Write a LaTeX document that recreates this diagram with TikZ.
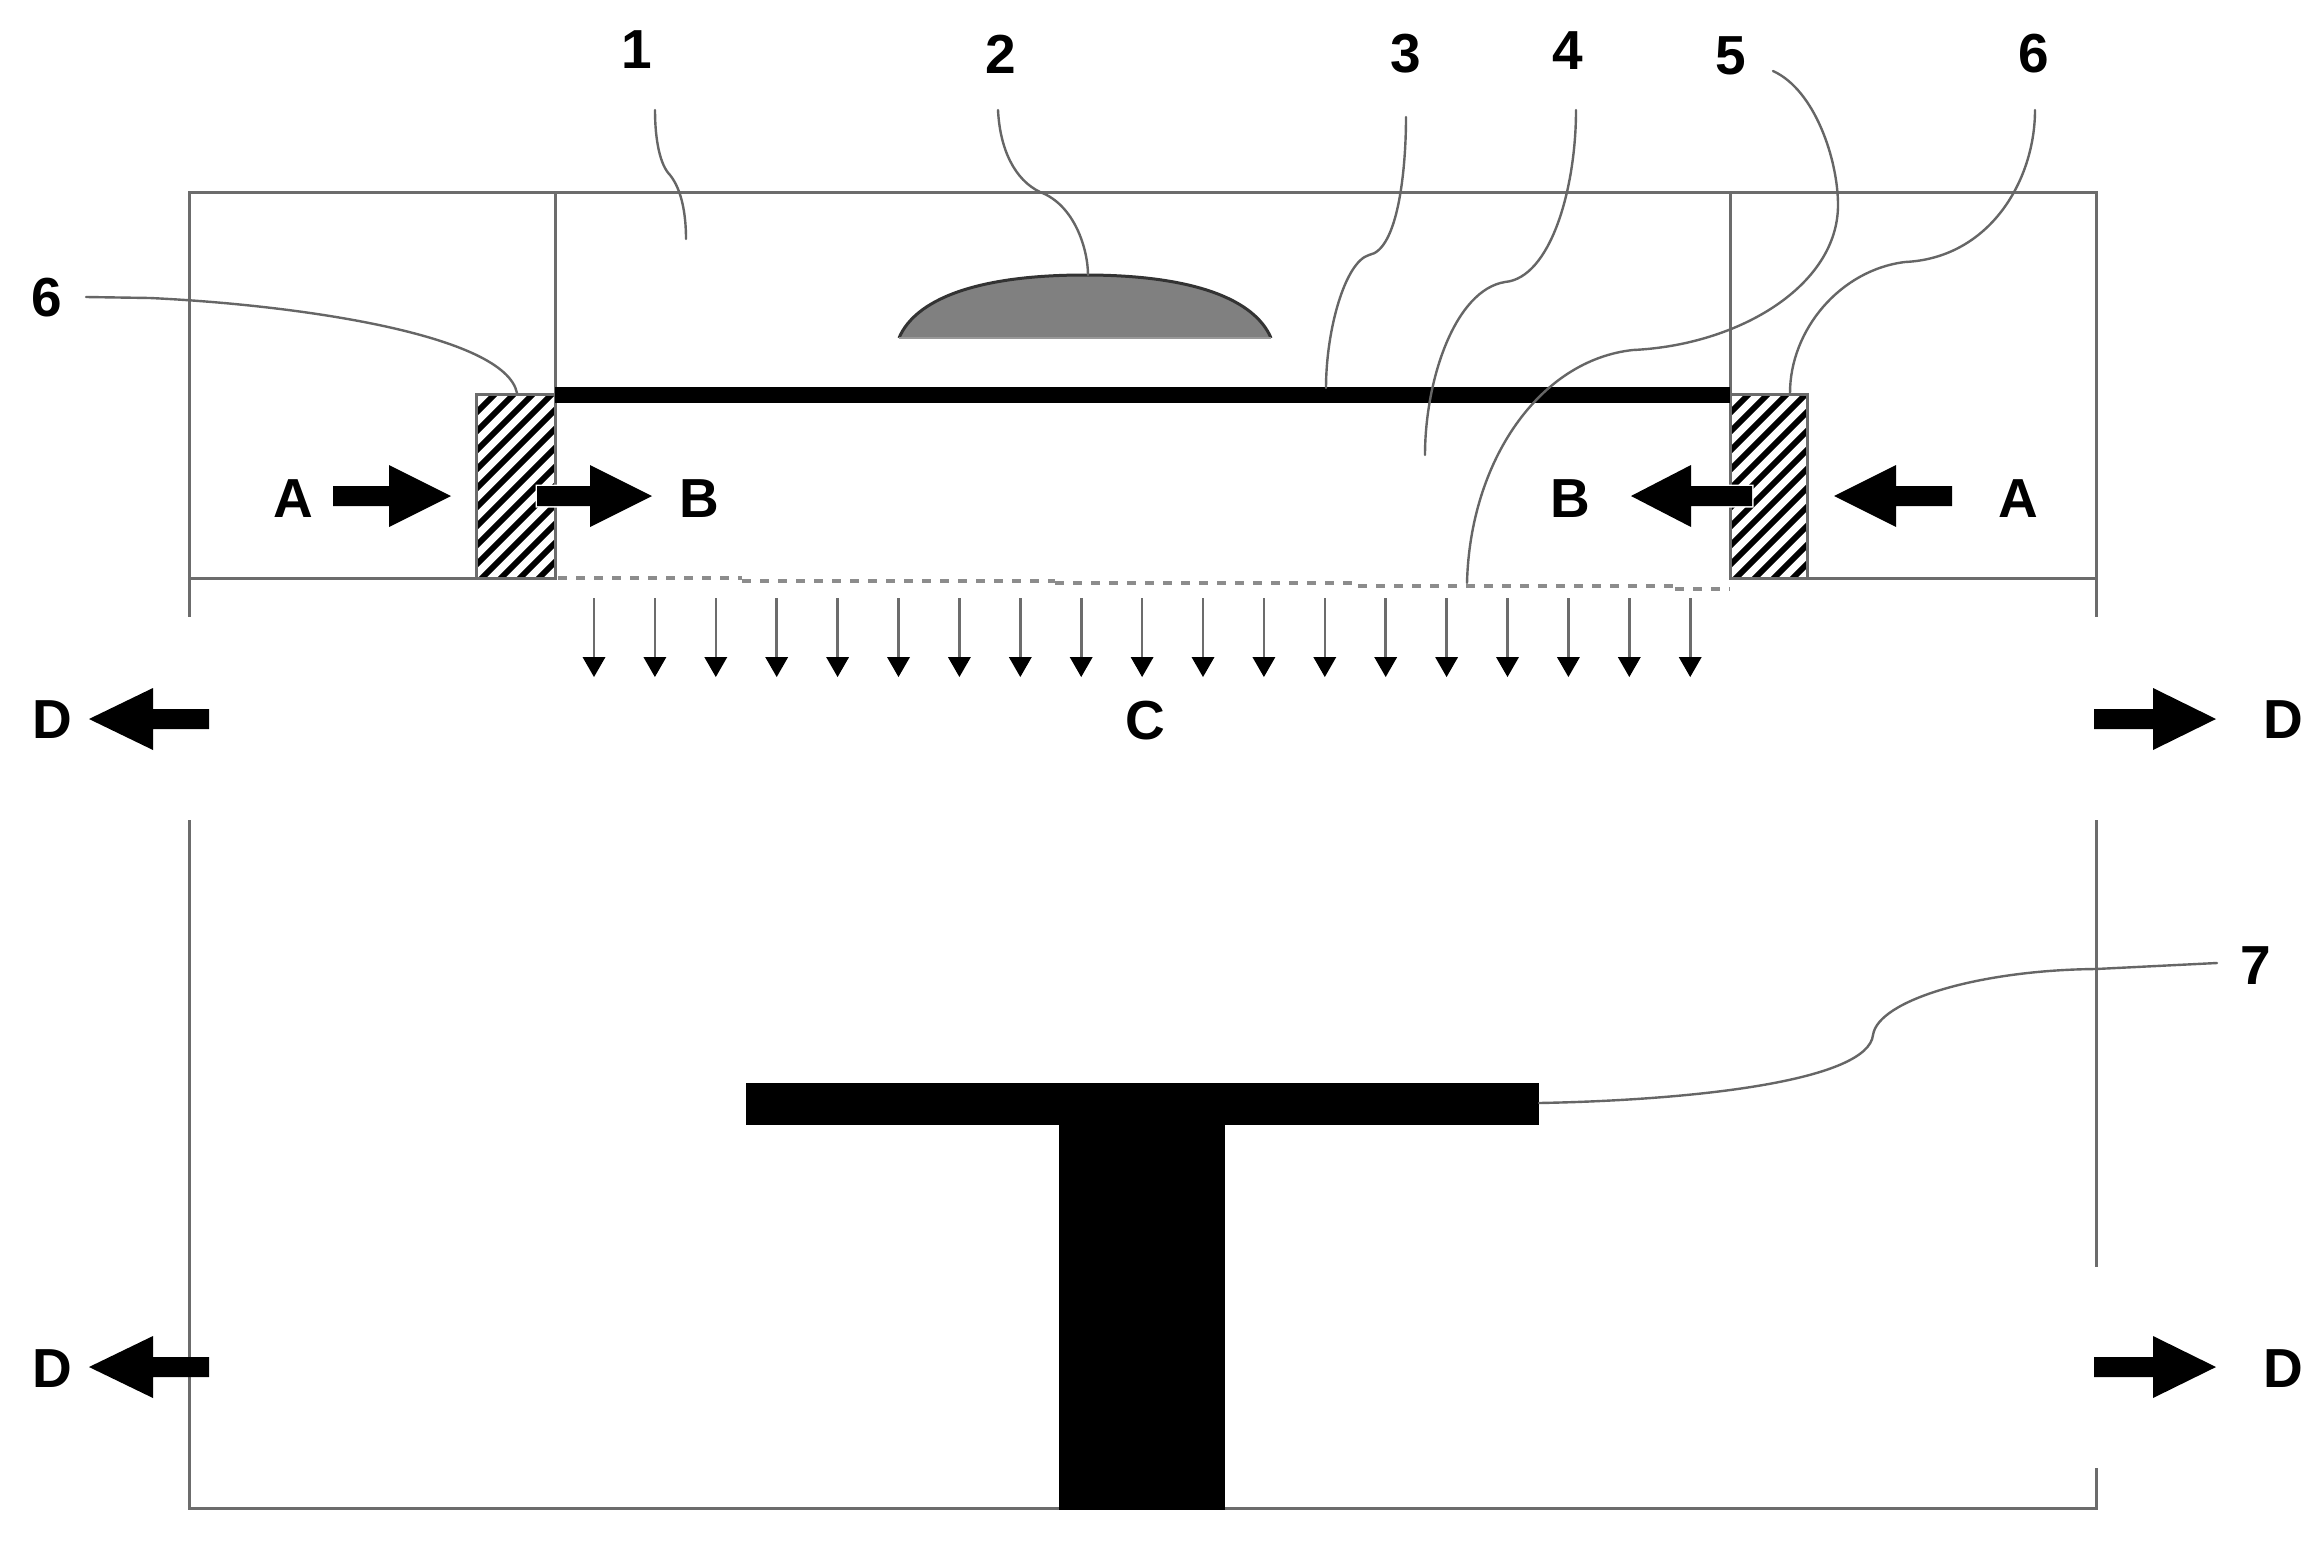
\documentclass[tikz,border=0pt]{standalone}
\usepackage{fontspec}
\setmainfont{Liberation Sans}
\definecolor{wallgray}{HTML}{6C6C6C}
\definecolor{leadgray}{HTML}{666666}
\definecolor{dropgray}{HTML}{808080}
\definecolor{dotgray}{HTML}{8C8C8C}
\tikzset{
  wall/.style={draw=wallgray,line width=3pt,line cap=rect},
  leader/.style={draw=leadgray,line width=2.4pt,line cap=round},
  hatchbox/.style={draw=wallgray,line width=3pt},
  hatchline/.style={draw=black,line width=5.8pt},
  solidblack/.style={fill=black},
  label/.style={inner sep=0pt,outer sep=0pt,font=\bfseries\fontsize{55}{60}\selectfont,text=black},
  flowarrow/.style={fill=black},
  smallshaft/.style={draw=wallgray,line width=2.6pt},
  smallhead/.style={fill=black},
  dotted edge/.style={draw=dotgray,line width=3.6pt,dash pattern=on 9pt off 9pt},
}
\newcommand{\blockarrow}[5][]{%
  \path[flowarrow,#1] (#2,#5-10) -- (#3,#5-10) -- (#3,#5-31) -- (#4,#5) -- (#3,#5+31) -- (#3,#5+10) -- (#2,#5+10) -- cycle;}
\begin{document}
\begin{tikzpicture}[x=1pt,y=-1pt]
\useasboundingbox[fill=white] (0,0) rectangle (2324,1542);

% housing, upper part
\draw[wall] (189,615) -- (189,192) -- (2096,192) -- (2096,615);
\draw[wall] (189,578) -- (476,578);
\draw[wall] (1807,578) -- (2096,578);
\draw[wall] (555,192) -- (555,394);
\draw[wall] (1730,192) -- (1730,394);
% housing, lower part
\draw[wall] (189,821) -- (189,1508) -- (2096,1508) -- (2096,1469);
\draw[wall] (2096,821) -- (2096,1265);

% hatched seals
\begin{scope}
  \clip (476,394) rectangle (555,578);
  \foreach \c in {870,889,...,1140} \draw[hatchline] (470,\c-470) -- (560,\c-560);
\end{scope}
\draw[hatchbox] (476,394) rectangle (555,578);
\begin{scope}
  \clip (1730,394) rectangle (1807,578);
  \foreach \c in {2124,2143,...,2400} \draw[hatchline] (1725,\c-1725) -- (1812,\c-1812);
\end{scope}
\draw[hatchbox] (1730,394) rectangle (1807,578);

% membrane bar
\fill[solidblack] (555,387) rectangle (1730,403);

% droplet
\fill[dropgray] (899,338) .. controls (915,300) and (975,275) .. (1085,275) .. controls (1195,275) and (1255,300) .. (1271,338) -- cycle;
\draw[draw=black!80,line width=3pt] (899,338) .. controls (915,300) and (975,275) .. (1085,275) .. controls (1195,275) and (1255,300) .. (1271,338);
\draw[draw=dropgray!80,line width=2pt] (899,338) -- (1271,338);

% dashed lower edge
\draw[dotted edge] (558,578) -- (742,578);
\draw[dotted edge] (742,581) -- (1055,581);
\draw[dotted edge] (1055,583) -- (1358,583);
\draw[dotted edge] (1358,586) -- (1675,586);
\draw[dotted edge] (1675,589) -- (1730,589);

% small flow arrows
\foreach \i in {0,...,18} {
  \pgfmathsetmacro{\xx}{594+60.9*\i}
  \draw[smallshaft] (\xx,598) -- (\xx,660);
  \fill[smallhead] (\xx-11.5,657) -- (\xx+11.5,657) -- (\xx,677) -- cycle;
}

% stage
\fill[solidblack] (746,1083) rectangle (1539,1125);
\fill[solidblack] (1059,1083) rectangle (1225,1509.5);

% block arrows
\blockarrow{333}{389}{451}{496}
\blockarrow[preaction={draw=white,line width=3pt}]{537}{590}{652}{496}
\blockarrow[preaction={draw=white,line width=3pt}]{1752}{1691}{1631}{496}
\blockarrow{1952}{1896}{1834}{496}
\blockarrow{209}{153}{89}{719}
\blockarrow{209}{153}{89}{1367}
\blockarrow{2094}{2153}{2216}{719}
\blockarrow{2094}{2153}{2216}{1367}

% labels
\node[label] (n1) at (637,50) {1};
\node[label] (n2) at (1001,54) {2};
\node[label] (n3) at (1406,54) {3};
\node[label] (n4) at (1568,51) {4};
\node[label] (n5) at (1731,56) {5};
\node[label] (n6r) at (2034,54) {6};
\node[label] (n6l) at (47,298) {6};
\node[label] (n7) at (2256,966) {7};
\node[label] (aL) at (293,499) {A};
\node[label] (bL) at (699,499) {B};
\node[label] (bR) at (1570,499) {B};
\node[label] (aR) at (2018,499) {A};
\node[label] (c) at (1145,721) {C};
\node[label] (d1) at (52,720) {D};
\node[label] (d2) at (52,1369) {D};
\node[label] (d3) at (2283,720) {D};
\node[label] (d4) at (2283,1369) {D};

% leader ends
\coordinate (s1) at (655,110);  \coordinate (e1) at (686,239);
\coordinate (s2) at (998,110);  \coordinate (e2) at (1088,275);
\coordinate (s3) at (1406,117); \coordinate (e3) at (1326,388);
\coordinate (s4) at (1576,110); \coordinate (e4) at (1425,455);
\coordinate (s5) at (1773,71);  \coordinate (e5) at (1467,583);
\coordinate (s6r) at (2035,110);\coordinate (e6r) at (1790,393);
\coordinate (s6l) at (86,297);  \coordinate (e6l) at (517,393);
\coordinate (s7) at (2217,963); \coordinate (e7) at (1539,1103);

\draw[leader] (s1) .. controls (655,140) and (660,165) .. (670,175) .. controls (682,190) and (686,215) .. (e1);
\draw[leader] (s2) .. controls (1000,150) and (1015,180) .. (1040,192) .. controls (1075,205) and (1088,250) .. (e2);
\draw[leader] (s3) .. controls (1406,170) and (1398,250) .. (1369,255) .. controls (1345,262) and (1326,330) .. (e3);
\draw[leader] (s4) .. controls (1576,190) and (1550,278) .. (1505,282) .. controls (1455,290) and (1425,380) .. (e4);
\draw[leader] (s5) .. controls (1815,90) and (1838,160) .. (1838,205) .. controls (1838,285) and (1740,345) .. (1633,350) .. controls (1540,360) and (1470,460) .. (e5);
\draw[leader] (s6r) .. controls (2035,180) and (1990,258) .. (1905,262) .. controls (1840,270) and (1790,330) .. (e6r);
\draw[leader] (s6l) -- (150,298) .. controls (300,305) and (505,335) .. (e6l);
\draw[leader] (e7) .. controls (1700,1100) and (1868,1080) .. (1873,1035) .. controls (1878,1000) and (1980,970) .. (2096,969) -- (s7);
\end{tikzpicture}
\end{document}
